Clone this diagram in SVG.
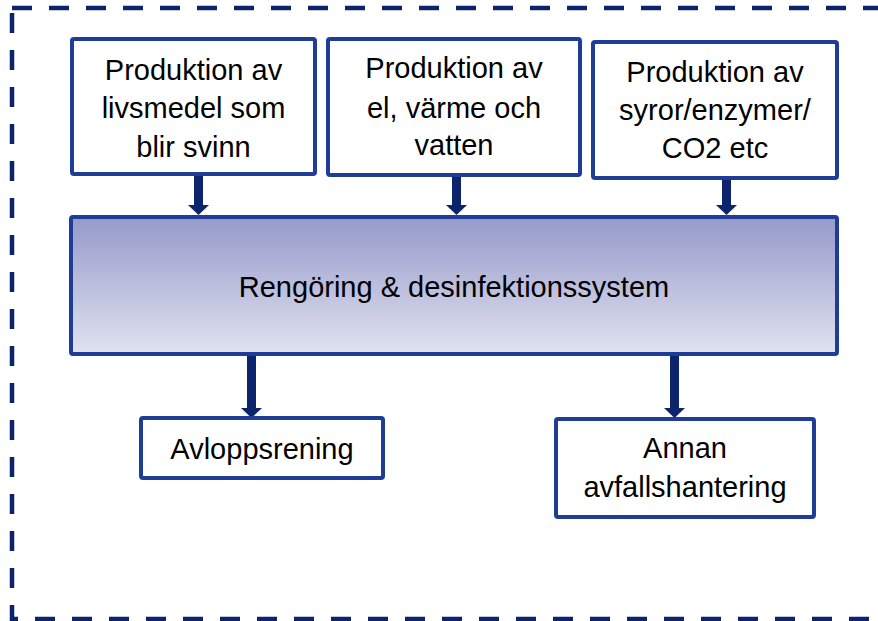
<svg xmlns="http://www.w3.org/2000/svg" width="878" height="621" viewBox="0 0 878 621">
<style>
.box{fill:#fff;stroke:#1F3C98;stroke-width:4;}
.t{font-family:"Liberation Sans",Arial,sans-serif;font-size:29px;fill:#000;text-anchor:middle;}
.shaft{stroke:#0C246C;stroke-width:9;fill:none;}
.head{fill:#0C246C;}
</style>
<defs>
<linearGradient id="g" x1="0" y1="0" x2="0" y2="1">
<stop offset="0" stop-color="#959AC9"/>
<stop offset="1" stop-color="#E1E2F0"/>
</linearGradient>
</defs>
<rect x="12" y="8" width="900" height="611" fill="none" stroke="#0C246C" stroke-width="4.5" stroke-dasharray="20 17"/>
<g id="connectors">
<line class="shaft" x1="198.5" y1="176" x2="198.5" y2="206"/><polygon class="head" points="188,205 209,205 198.5,215"/>
<line class="shaft" x1="456.5" y1="177" x2="456.5" y2="206"/><polygon class="head" points="446,205 467,205 456.5,215"/>
<line class="shaft" x1="726.5" y1="180" x2="726.5" y2="206"/><polygon class="head" points="716,205 737,205 726.5,215"/>
<line class="shaft" x1="251.5" y1="356" x2="251.5" y2="410"/><polygon class="head" points="241,408 262,408 251.5,418"/>
<line class="shaft" x1="674.5" y1="356" x2="674.5" y2="410"/><polygon class="head" points="664,408 685,408 674.5,418"/>
</g>
<g id="n1"><rect class="box" x="72" y="39" width="243" height="135" rx="2"/>
<text class="t" x="193.5" y="80">Produktion av</text><text class="t" x="193.5" y="118">livsmedel som</text><text class="t" x="193.5" y="157">blir svinn</text></g>
<g id="n2"><rect class="box" x="328" y="39" width="252" height="136" rx="2"/>
<text class="t" x="454" y="78">Produktion av</text><text class="t" x="454" y="118">el, värme och</text><text class="t" x="454" y="155">vatten</text></g>
<g id="n3"><rect class="box" x="593" y="42" width="244" height="136" rx="2"/>
<text class="t" x="715" y="82">Produktion av</text><text class="t" x="715" y="120">syror/enzymer/</text><text class="t" x="715" y="158">CO2 etc</text></g>
<g id="main"><rect x="71" y="217" width="766" height="137" rx="2" fill="url(#g)" stroke="#1F3C98" stroke-width="4"/>
<text class="t" x="454" y="297">Rengöring &amp; desinfektionssystem</text></g>
<g id="n4"><rect class="box" x="141" y="418" width="242" height="60" rx="2"/>
<text class="t" x="262" y="459">Avloppsrening</text></g>
<g id="n5"><rect class="box" x="556" y="419" width="258" height="98" rx="2"/>
<text class="t" x="685" y="458">Annan</text><text class="t" x="685" y="497">avfallshantering</text></g>
</svg>
